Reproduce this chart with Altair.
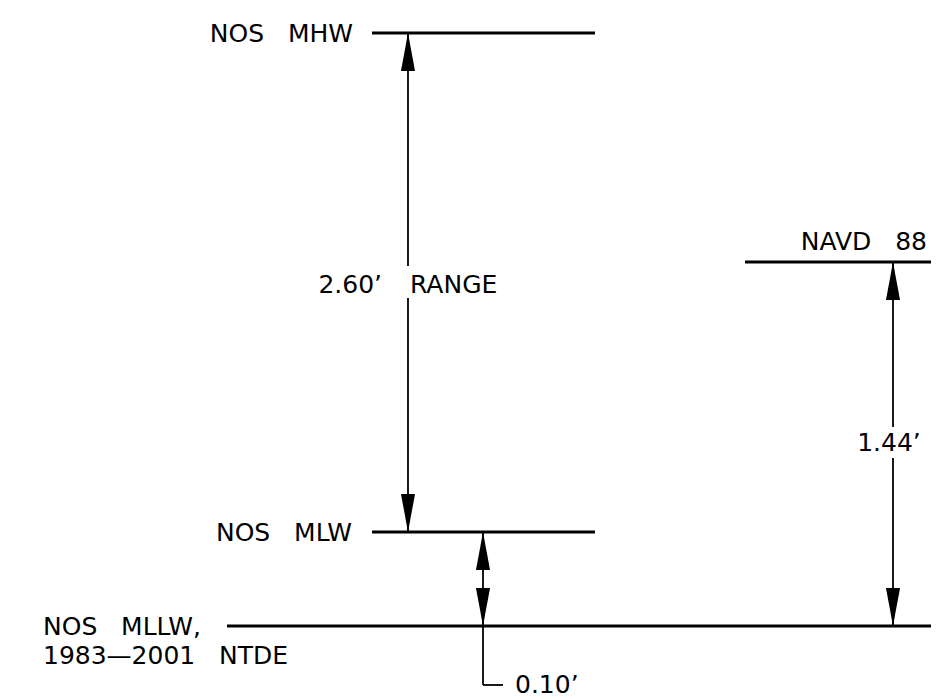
import altair as alt
import pandas as pd

# ---- data (drawing units: x = horizontal position, h = schematic height above MLLW) ----
level_names = ["NOS MHW", "NAVD 88", "NOS MLW", "NOS MLLW"]
level_h = [593, 364, 94, 0]
level_x0 = [372, 745, 372, 227]
level_x1 = [595, 931, 595, 931]

dim_x = [408, 893, 483]
dim_top = [593, 364, 94]
dim_bottom = [94, 0, 0]
dim_gap_top = [360, 199, None]
dim_gap_bottom = [328, 168, None]
dim_tail_h = [None, None, -59]
dim_tail_x = [None, None, 503]

text_labels = ["NOS\u00a0\u00a0\u00a0MHW", "NAVD\u00a0\u00a0\u00a088", "NOS\u00a0\u00a0\u00a0MLW",
               "NOS\u00a0\u00a0\u00a0MLLW,", "1983\u20142001\u00a0\u00a0\u00a0NTDE",
               "2.60\u2019", "RANGE", "1.44\u2019", "0.10\u2019"]
text_x = [353, 927, 352, 43, 43, 382, 410, 889, 515]
text_h = [592, 384, 93, -1, -30, 341, 341, 183, -59]
text_align = ["right", "right", "right", "left", "left", "right", "left", "center", "left"]

# ---- tables ----
levels = pd.DataFrame({"name": level_names, "h": level_h, "x0": level_x0, "x1": level_x1})

segs = []
for i in range(len(dim_x)):
    x = dim_x[i]
    if dim_gap_top[i] is not None:
        segs.append(dict(x=x, x2=x, h=dim_top[i], h2=dim_gap_top[i]))
        segs.append(dict(x=x, x2=x, h=dim_gap_bottom[i], h2=dim_bottom[i]))
    else:
        low = dim_tail_h[i] if dim_tail_h[i] is not None else dim_bottom[i]
        segs.append(dict(x=x, x2=x, h=dim_top[i], h2=low))
    if dim_tail_x[i] is not None:
        segs.append(dict(x=x, x2=dim_tail_x[i], h=dim_tail_h[i], h2=dim_tail_h[i]))
segs = pd.DataFrame(segs)

arrows_up = pd.DataFrame({"x": dim_x, "h": dim_top})
arrows_down = pd.DataFrame({"x": dim_x, "h": dim_bottom})
texts = pd.DataFrame({"t": text_labels, "x": text_x, "h": text_h, "align": text_align})

xs = alt.Scale(domain=[8, 938], nice=False, zero=False)
ys = alt.Scale(domain=[-73, 618], nice=False, zero=False)

X = lambda f: alt.X(f, type="quantitative", scale=xs, axis=None)
Y = lambda f: alt.Y(f, type="quantitative", scale=ys, axis=None)

lines = alt.Chart(levels).mark_rule(color="black", strokeWidth=2.8).encode(
    x=X("x0"), x2="x1", y=Y("h"))

dims = alt.Chart(segs).mark_rule(color="black", strokeWidth=1.8).encode(
    x=X("x"), x2="x2", y=Y("h"), y2="h2")

UP = "M0,0L0.37,2L-0.37,2Z"
DOWN = "M0,0L0.37,-2L-0.37,-2Z"
heads_up = alt.Chart(arrows_up).mark_point(
    shape=UP, size=1444, filled=True, color="black", opacity=1, strokeWidth=0
).encode(x=X("x"), y=Y("h"))
heads_down = alt.Chart(arrows_down).mark_point(
    shape=DOWN, size=1444, filled=True, color="black", opacity=1, strokeWidth=0
).encode(x=X("x"), y=Y("h"))

def text_layer(al):
    return alt.Chart(texts[texts["align"] == al]).mark_text(
        align=al, baseline="middle", font="DejaVu Sans", fontSize=25, color="black"
    ).encode(x=X("x"), y=Y("h"), text="t")

chart = alt.layer(
    lines, dims, heads_up, heads_down,
    text_layer("left"), text_layer("right"), text_layer("center")
).properties(
    width=930, height=691, padding=0, background="white",
    autosize=alt.AutoSizeParams(type="none")
).configure_view(stroke=None)

chart.save("out.html", embed_options={"renderer": "svg", "actions": False})
